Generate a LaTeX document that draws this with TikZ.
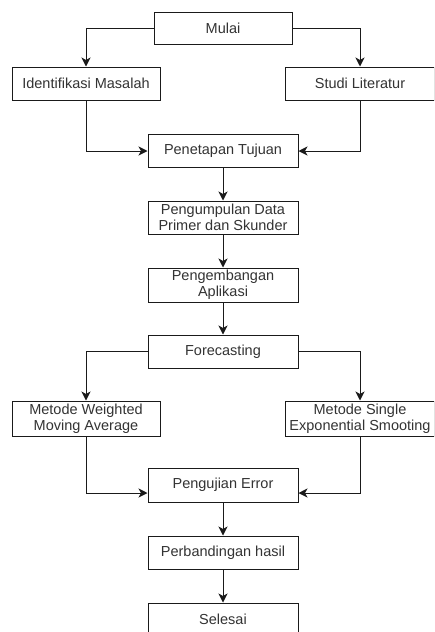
\documentclass[tikz,border=0pt]{standalone}
\usepackage{fontspec}
\setmainfont{Liberation Sans}
\usetikzlibrary{arrows.meta}
\definecolor{txt}{HTML}{333333}
\definecolor{ln}{HTML}{1A1A1A}
\begin{document}
\begin{tikzpicture}[x=1pt,y=-1pt,
  box/.style={draw=ln, line width=1pt, fill=white, text=txt, inner sep=0pt,
    align=center, font=\fontsize{14.5}{16}\selectfont},
  arr/.style={draw=ln, line width=1pt, -{Stealth[length=9pt,width=9pt,inset=2.5pt]}}]
\useasboundingbox (0,0) rectangle (434,632);
\clip (0,0) rectangle (434,632);
\node[box, minimum width=138pt, minimum height=32pt] (mulai) at (223,28) {Mulai};
\node[box, minimum width=148pt, minimum height=33pt] (ident) at (86,83.5) {Identifikasi Masalah};
\node[box, minimum width=149pt, minimum height=33pt] (studi) at (360,83.5) {Studi Literatur};
\node[box, minimum width=150pt, minimum height=33pt] (tujuan) at (223,151) {Penetapan Tujuan};
\node[box, minimum width=150pt, minimum height=33pt] (data) at (223,217.5) {Pengumpulan Data\\Primer dan Skunder};
\node[box, minimum width=150pt, minimum height=34pt] (app) at (223,285) {Pengembangan\\Aplikasi};
\node[box, minimum width=150pt, minimum height=33pt] (fc) at (223,351.5) {Forecasting};
\node[box, minimum width=148pt, minimum height=35pt] (wma) at (86,418.5) {Metode Weighted\\Moving Average};
\node[box, minimum width=149pt, minimum height=35pt] (ses) at (360,418.5) {Metode Single\\Exponential Smooting};
\node[box, minimum width=150pt, minimum height=34pt] (err) at (223,485) {Pengujian Error};
\node[box, minimum width=150pt, minimum height=33pt] (banding) at (223,552.5) {Perbandingan hasil};
\node[box, minimum width=150pt, minimum height=33pt] (selesai) at (223,619.5) {Selesai};
\draw[arr] (mulai.west) -| (ident.north);
\draw[arr] (mulai.east) -| (studi.north);
\draw[arr] (ident.south) |- (tujuan.west);
\draw[arr] (studi.south) |- (tujuan.east);
\draw[arr] (tujuan) -- (data);
\draw[arr] (data) -- (app);
\draw[arr] (app) -- (fc);
\draw[arr] (fc.west) -| (wma.north);
\draw[arr] (fc.east) -| (ses.north);
\draw[arr] (wma.south) |- ([yshift=-8pt]err.west);
\draw[arr] (ses.south) |- ([yshift=-8pt]err.east);
\draw[arr] (err) -- (banding);
\draw[arr] (banding) -- (selesai);
\end{tikzpicture}
\end{document}
